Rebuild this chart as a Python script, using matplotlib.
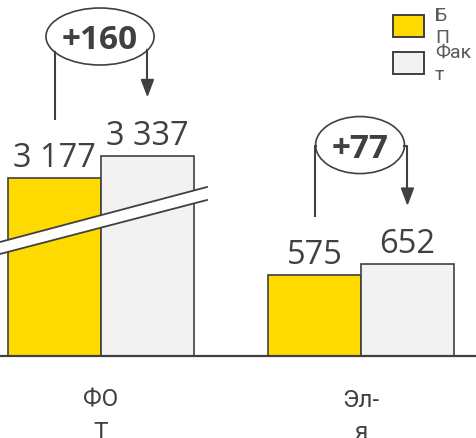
# Plan vs fact bar chart with broken first group and delta bubbles
import matplotlib.pyplot as plt
from matplotlib.patches import Ellipse, Rectangle, Polygon
from matplotlib.lines import Line2D
from matplotlib.transforms import IdentityTransform

# data
categories = ["ФО\nТ", "Эл-\nя"]
plan = [3177, 575]
fact = [3337, 652]
broken = [True, False]
legend_labels = ["Б\nП", "Фак\nт"]

# styles
YELLOW = "#FFDA00"
LIGHT = "#F2F2F2"
EDGE = "#404040"
TEXT = "#404040"
HIDE = 1915  # units hidden by the axis break

fig = plt.figure(figsize=(4.77, 4.39), dpi=100)
ax = fig.add_axes([0, 82 / 439, 1, 357 / 439])
ax.set_xlim(-0.3885, 1.446)
ax.set_ylim(0, 2532)
for s in ["top", "right", "left"]:
    ax.spines[s].set_visible(False)
ax.spines["bottom"].set_color(EDGE)
ax.spines["bottom"].set_linewidth(1.6)
ax.set_yticks([])

x = list(range(len(categories)))
w = 0.357
plan_h = [v - HIDE if b else v for v, b in zip(plan, broken)]
fact_h = [v - HIDE if b else v for v, b in zip(fact, broken)]

ax.bar([i - w / 2 for i in x], plan_h, w, color=YELLOW, edgecolor=EDGE, linewidth=1.2)
ax.bar([i + w / 2 for i in x], fact_h, w, color=LIGHT, edgecolor=EDGE, linewidth=1.2)

ax.set_xticks(x, categories)
ax.tick_params(axis="x", length=0, pad=23)
for t in ax.get_xticklabels():
    t.set_fontsize(17.5)
    t.set_family("Roboto")
    t.set_color(TEXT)
    t.set_linespacing(1.5)

# value labels
for i in x:
    for xc, h, v in [(i - w / 2, plan_h[i], plan[i]), (i + w / 2, fact_h[i], fact[i])]:
        ax.annotate(f"{v:,}".replace(",", " "), (xc, h), xytext=(0, 12),
                    textcoords="offset pixels", ha="center", va="baseline",
                    fontsize=23.5, family="Open Sans", color=TEXT)

# delta bubbles with arrows (drawn in pixel space)
px = IdentityTransform()
renderer = fig.canvas.get_renderer()
for i in x:
    xl, yl = ax.transData.transform((i - w / 2, plan_h[i]))
    xr, yr = ax.transData.transform((i + w / 2, fact_h[i]))
    cx = ax.transData.transform((i, 0))[0] - 1
    cy = yr + 119
    t = fig.text(cx, cy - 11.5, f"+{fact[i] - plan[i]}", transform=px, ha="center",
                 va="baseline", fontsize=24, fontweight="bold", family="Open Sans",
                 color=TEXT)
    tw = t.get_window_extent(renderer=renderer).width
    a, b = (tw + 32) / 2, 28.5
    fig.add_artist(Ellipse((cx, cy), 2 * a, 2 * b, transform=px, fill=False,
                           edgecolor=EDGE, linewidth=1.2))
    for xs, yb, arrow in [(xl, yl + 59, False), (xr, yr + 60, True)]:
        dx = xs - cx
        if abs(dx) < a:
            ytop = cy - b * (1 - (dx / a) ** 2) ** 0.5
            xx, yy = [xs, xs], [yb, ytop]
        else:
            xe = cx + a if dx > 0 else cx - a
            xx, yy = [xs, xs, xe], [yb, cy - 1, cy - 1]
        if arrow:
            yy[0] = yb + 14
        fig.add_artist(Line2D(xx, yy, transform=px, color=EDGE, linewidth=1.5))
        if arrow:
            fig.add_artist(Polygon([(xs - 6, yb + 16), (xs + 6, yb + 16), (xs, yb)],
                                   closed=True, transform=px, color=EDGE))

# axis break band
band = [(0, 196), (207, 251), (207, 238), (0, 184)]
fig.add_artist(Polygon(band, closed=True, transform=px, facecolor="white", edgecolor="none"))
fig.add_artist(Line2D([0, 207], [196, 251], transform=px, color=EDGE, linewidth=1.3))
fig.add_artist(Line2D([0, 207], [184, 238], transform=px, color=EDGE, linewidth=1.3))

# legend
for j, (lab, col) in enumerate(zip(legend_labels, [YELLOW, LIGHT])):
    y0 = 401 - 37 * j
    fig.add_artist(Rectangle((393, y0), 31, 22, transform=px, facecolor=col,
                             edgecolor=EDGE, linewidth=1.4))
    fig.text(435, y0 + 11, lab, transform=px, ha="left", va="center", fontsize=14,
             family="Roboto", color="#595959", linespacing=1.3)

fig.savefig("out.png", dpi=100)
